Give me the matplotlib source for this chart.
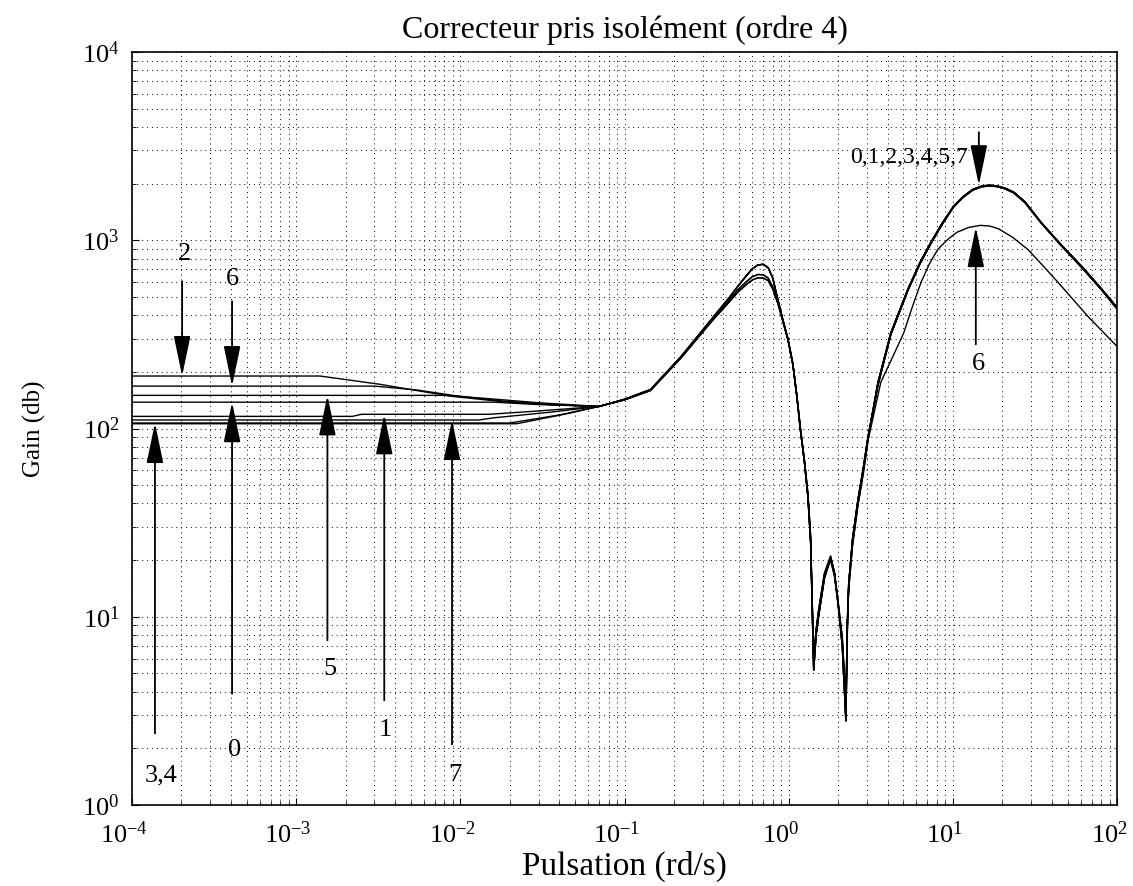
import matplotlib
matplotlib.use("Agg")
import matplotlib.pyplot as plt
import matplotlib.transforms as mtransforms
import numpy as np

plt.rcParams['font.family'] = ['Liberation Serif', 'DejaVu Serif']
plt.rcParams['mathtext.fontset'] = 'custom'
plt.rcParams['mathtext.rm'] = 'Liberation Serif'
plt.rcParams['mathtext.it'] = 'Liberation Serif:italic'

# Low-frequency part of each setting (pulsation rd/s, gain)
w_c0 = [1e-4, 1.6e-2, 3.0e-2]
g_c0 = [138, 138, 134]
w_c1 = [1e-4, 2.2e-3, 2.5e-3, 1.5e-2, 3.0e-2]
g_c1 = [116, 116, 119, 119, 124]
w_c2 = [1e-4, 1.4e-3, 3.2e-3, 5.7e-3, 9.0e-3, 1.8e-2, 3.5e-2]
g_c2 = [190, 190, 172, 158, 148, 139, 134]
w_c3 = [1e-4, 2.0e-2, 4.0e-2]
g_c3 = [107, 107, 118]
w_c4 = [1e-4, 2.2e-2, 4.5e-2]
g_c4 = [106, 106, 120]
w_c5 = [1e-4, 8.0e-3, 1.5e-2, 3.0e-2]
g_c5 = [150, 150, 144, 137]
w_c6 = [1e-4, 3.0e-3, 5.5e-3, 9.0e-3, 1.8e-2, 3.5e-2]
g_c6 = [168, 168, 160, 150, 140, 134]
w_c7 = [1e-4, 1.3e-2, 1.6e-2, 3.5e-2]
g_c7 = [111, 111, 114, 122]

# Resonance and the two notches (0.07 .. 3 rd/s)
w_mid = [0.07, 0.1, 0.144, 0.22, 0.35, 0.43, 0.49, 0.55, 0.6, 0.65, 0.7,
         0.75, 0.8, 0.86, 0.92, 0.99, 1.06, 1.12, 1.18, 1.25, 1.31, 1.36,
         1.42, 1.47, 1.52, 1.65, 1.80, 1.90, 1.99, 2.12, 2.23, 2.28, 2.32,
         2.45, 2.64, 2.85, 3.04]
g_mid_a = [131, 143, 161, 240, 394, 490, 569, 645, 705, 740, 745,
           715, 630, 482, 380, 297, 220, 150, 98, 65, 43, 25,
           5.2, 8, 10, 16, 20.5, 17, 12.3, 7.0, 2.8, 9, 15,
           26, 41.7, 62, 90]
g_mid_b = [131, 142, 160, 238, 388, 475, 545, 600, 640, 658, 655,
           630, 565, 470, 380, 300, 222, 152, 100, 67, 45, 27,
           5.8, 8.4, 10.5, 16.5, 20, 16.5, 12, 7.5, 3.3, 9.5, 14.5,
           25, 40, 60, 88]
g_mid_c = [131, 142, 159, 236, 382, 465, 530, 580, 615, 632, 630,
           610, 550, 460, 372, 295, 218, 148, 97, 66, 44, 26,
           6.0, 8.6, 10.8, 17, 21, 17.2, 12.5, 7.8, 3.6, 9.8, 14,
           24, 39, 58, 86]

# High-frequency peak
w_high = [3.5, 4.19, 5.32, 6.3, 7.35, 8.6, 10.1, 11.5, 13.2, 15.0, 16.6,
          18.5, 20.8, 23.5, 27.5, 34.4, 45, 62, 80, 100]
g_high_a = [176, 322, 549, 760, 975, 1230, 1517, 1700, 1860, 1940, 1960,
            1945, 1890, 1800, 1600, 1247, 960, 715, 555, 440]
g_high_b = [170, 315, 540, 748, 960, 1212, 1500, 1685, 1845, 1925, 1942,
            1930, 1875, 1785, 1585, 1238, 950, 705, 548, 432]
w_high6 = [3.64, 4.3, 5.02, 5.7, 6.4, 7.2, 8.1, 9.3, 10.6, 12.5, 14.7,
           16.8, 19.0, 23, 28.6, 35, 43.7, 66.5, 100]
g_high6 = [176, 240, 322, 450, 598, 750, 895, 1010, 1103, 1170, 1200,
           1190, 1150, 1040, 895, 740, 598, 394, 273]

curves = [
    (w_c0, g_c0, g_mid_a, w_high, g_high_a),
    (w_c1, g_c1, g_mid_b, w_high, g_high_b),
    (w_c2, g_c2, g_mid_c, w_high, g_high_a),
    (w_c3, g_c3, g_mid_a, w_high, g_high_b),
    (w_c4, g_c4, g_mid_a, w_high, g_high_a),
    (w_c5, g_c5, g_mid_b, w_high, g_high_a),
    (w_c6, g_c6, g_mid_c, w_high6, g_high6),
    (w_c7, g_c7, g_mid_a, w_high, g_high_b),
]

x_ticks = [1e-4, 1e-3, 1e-2, 1e-1, 1e0, 1e1, 1e2]
x_tick_labels = ['$10^{-4}$', '$10^{-3}$', '$10^{-2}$', '$10^{-1}$',
                 '$10^{0}$', '$10^{1}$', '$10^{2}$']

fig = plt.figure(figsize=(11.33, 8.86), dpi=100)
ax = fig.add_axes([0.1165, 0.0914, 0.8694, 0.8499])

for w_lo, g_lo, g_md, w_hi, g_hi in curves:
    w = list(w_lo) + list(w_mid) + list(w_hi)
    g = list(g_lo) + list(g_md) + list(g_hi)
    ax.loglog(w, g, color='black', lw=1.0)

ax.set_xlim(1e-4, 1e2)
ax.set_ylim(1e0, 1e4)
ax.grid(which='both', color='black', linestyle=(0, (1, 4)), linewidth=0.7)
ax.tick_params(which='both', direction='in', labelsize=19)
ax.tick_params(which='major', length=5, pad=9)
ax.tick_params(which='minor', length=3)
ax.set_xticks(x_ticks)
ax.set_xticklabels([])
for s in ax.spines.values():
    s.set_linewidth(1.2)

# x tick labels placed below the axis, slightly left of their grid lines
xtrans = mtransforms.blended_transform_factory(ax.transData, ax.transAxes)
xtrans = mtransforms.offset_copy(xtrans, fig=fig, x=-8, y=0, units='dots')
for t, lab in zip(x_ticks, x_tick_labels):
    ax.text(t, -0.022, lab, transform=xtrans, ha='center', va='top',
            fontsize=19)

ax.set_title('Correcteur pris isolément (ordre 4)', fontsize=23, pad=10)
ax.text(0.5, -0.061, 'Pulsation (rd/s)', transform=ax.transAxes,
        ha='center', va='top', fontsize=24)
ax.set_ylabel('Gain (db)', fontsize=18, labelpad=26)

arrow = dict(arrowstyle='-|>,head_length=1.25,head_width=0.26',
             mutation_scale=20, color='black', lw=1.3, shrinkA=0, shrinkB=0)

# (label, arrow x, arrow tail y, arrow tip y, text x, text y)
labels = [
    ('2', 2.02e-4, 605, 190, 2.1e-4, 843),
    ('6', 4.07e-4, 474, 168, 4.1e-4, 620),
    ('0', 4.07e-4, 3.9, 138, 4.2e-4, 1.96),
    ('5', 1.55e-3, 7.5, 150, 1.6e-3, 5.3),
    ('1', 3.44e-3, 3.6, 119, 3.5e-3, 2.5),
    ('7', 8.9e-3, 2.1, 111, 9.3e-3, 1.44),
    ('3,4', 1.38e-4, 2.4, 107, 1.5e-4, 1.44),
    ('6', 13.8, 280, 1175, 14.3, 219),
]
for txt, xa, ytail, ytip, xt, yt in labels:
    ax.annotate('', xy=(xa, ytip), xytext=(xa, ytail), arrowprops=arrow)
    ax.text(xt, yt, txt, fontsize=19, ha='center', va='center')

ax.annotate('', xy=(14.4, 1960), xytext=(14.4, 3750), arrowprops=arrow)
ax.text(5.4, 2760, '0,1,2,3,4,5,7', fontsize=17, ha='center', va='center')

fig.savefig('out.png', dpi=100)
